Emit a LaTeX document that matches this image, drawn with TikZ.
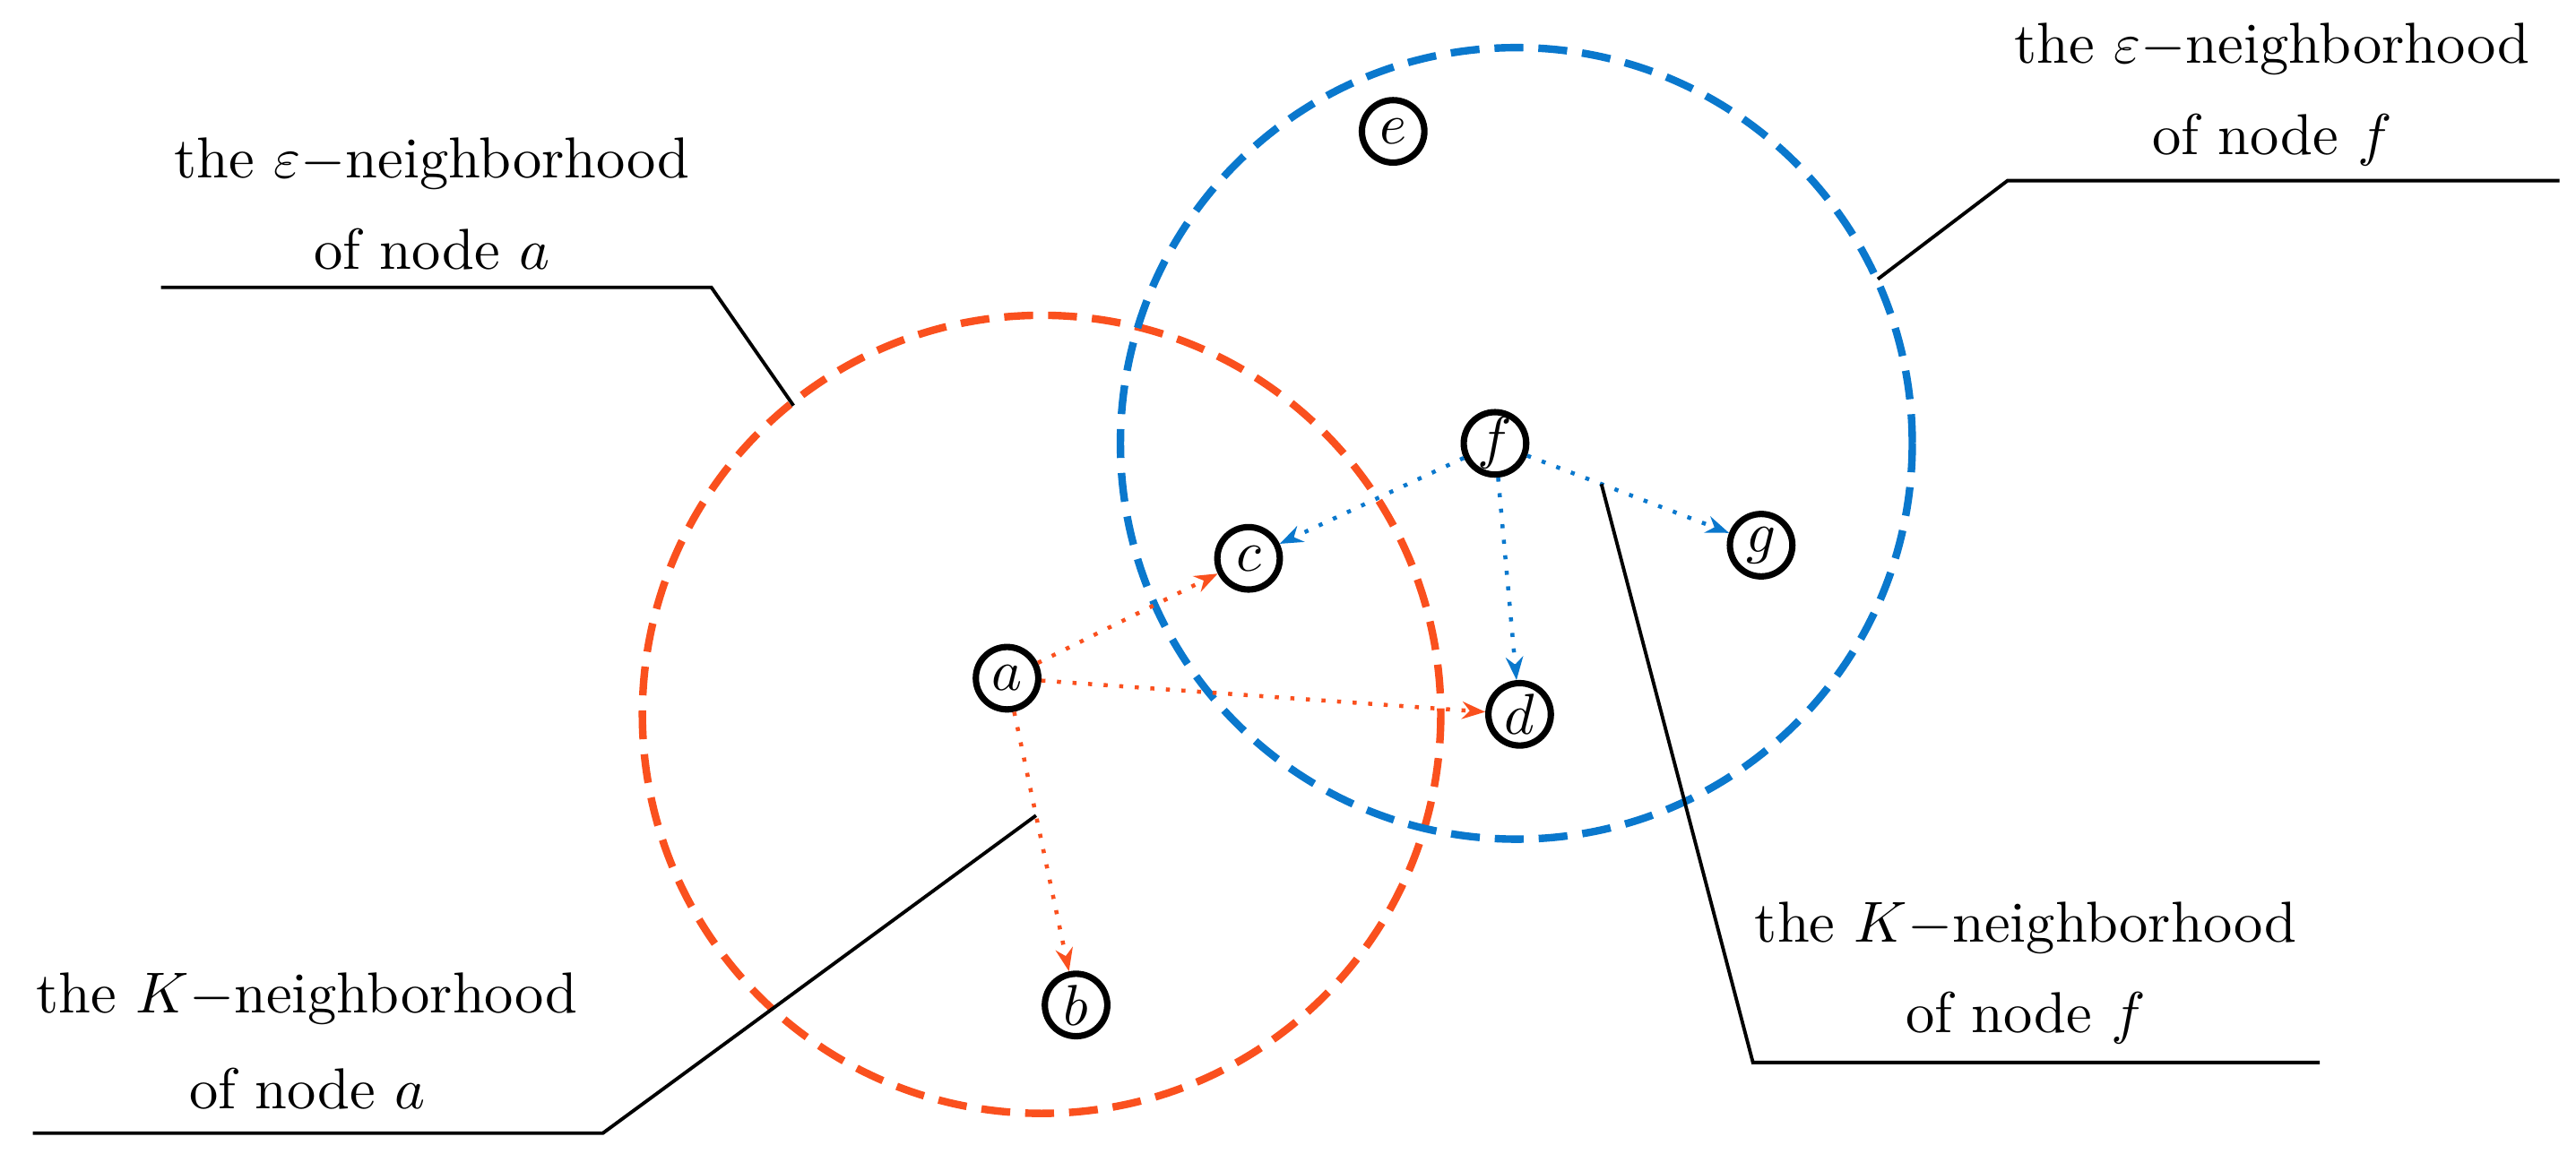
\documentclass[tikz,border=0pt]{standalone}
\usepackage{amsmath}
\usetikzlibrary{arrows.meta, positioning, calc}
\definecolor{redneigh}{RGB}{250,80,30}
\definecolor{blueneigh}{RGB}{10,120,205}
\tikzset{%
  % circled graph node
  vertex/.style={circle,draw,line width=1.1pt,inner sep=0pt,minimum size=0.38cm},
  % dashed neighborhood circle
  hood/.style={draw,line width=1.3pt,dash pattern=on 5pt off 2.6pt},
  % dotted arrow between nodes
  link/.style={dotted,line width=0.7pt,-{Stealth[length=4pt,width=3pt]}},
  leader/.style={line width=0.6pt}
}
\begin{document}
\begin{tikzpicture}[x=0.01cm,y=-0.01cm]
  \useasboundingbox (0,0) rectangle (1568,713);
  % neighborhoods
  \draw[hood,redneigh] (634,435) circle (243);
  \draw[hood,blueneigh] (923,270) circle (241);
  % nodes
  \node[vertex] (a) at (613,413) {$a$};
  \node[vertex] (b) at (655,612) {$b$};
  \node[vertex] (c) at (760,340) {$c$};
  \node[vertex] (d) at (925,435) {$d$};
  \node[vertex] (e) at (848,80) {$e$};
  \node[vertex] (f) at (910,270) {$f$};
  \node[vertex] (g) at (1072,332) {$g$};
  % K-nearest links
  \draw[link,redneigh] (a) -- (c);
  \draw[link,redneigh] (a) -- (d);
  \draw[link,redneigh] (a) -- (b);
  \draw[link,blueneigh] (f) -- (c);
  \draw[link,blueneigh] (f) -- (d);
  \draw[link,blueneigh] (f) -- (g);
  % annotations
  \coordinate (epsA) at (483,247);
  \coordinate (epsF) at (1143,170);
  \coordinate (knA) at ($(a)!0.42!(b)$);
  \coordinate (knF) at ($(f)!0.4!(g)$);
  \draw[leader] (epsA) -- (433,175) -- (98,175);
  \draw[leader] (epsF) -- (1222,110) -- (1558,110);
  \draw[leader] (knA) -- (367,690) -- (20,690);
  \draw[leader] (knF) -- (1067,647) -- (1412,647);
  \node (lepsA) at (263,100) {the $\varepsilon-$neighborhood};
  \node (lepsAb) at (263,152) {of node $a$};
  \node (lepsF) at (1383,30) {the $\varepsilon-$neighborhood};
  \node (lepsFb) at (1383,85) {of node $f$};
  \node (lknA) at (187,608) {the $K-$neighborhood};
  \node (lknAb) at (187,663) {of node $a$};
  \node (lknF) at (1233,565) {the $K-$neighborhood};
  \node (lknFb) at (1233,620) {of node $f$};
\end{tikzpicture}
\end{document}
